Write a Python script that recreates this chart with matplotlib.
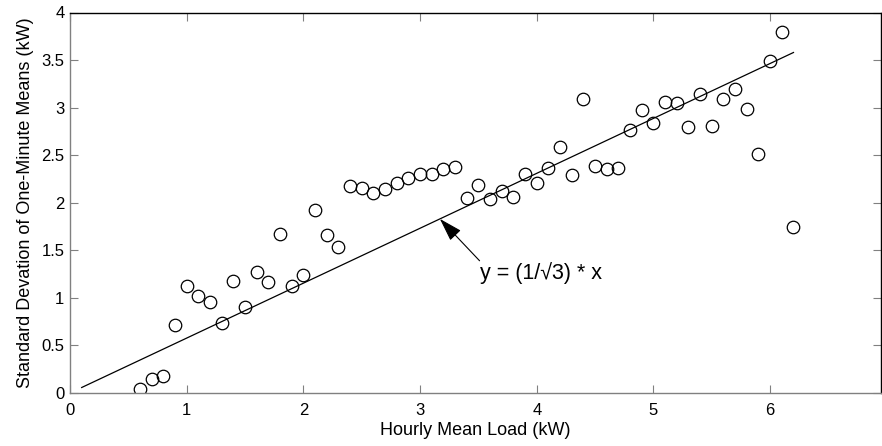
import numpy as np
import matplotlib
matplotlib.use("Agg")
import matplotlib.pyplot as plt

plt.rcParams['font.family'] = ['Liberation Sans', 'DejaVu Sans']

load_kw = [0.6, 0.7, 0.8, 0.9, 1.0, 1.1, 1.2, 1.3, 1.4, 1.5, 1.6, 1.7, 1.8, 1.9,
           2.0, 2.1, 2.2, 2.3, 2.4, 2.5, 2.6, 2.7, 2.8, 2.9, 3.0, 3.1, 3.2, 3.3,
           3.4, 3.5, 3.6, 3.7, 3.8, 3.9, 4.0, 4.1, 4.2, 4.3, 4.4, 4.5, 4.6, 4.7,
           4.8, 4.9, 5.0, 5.1, 5.2, 5.3, 5.4, 5.5, 5.6, 5.7, 5.8, 5.9, 6.0, 6.1, 6.2]
std_kw = [0.04, 0.15, 0.18, 0.71, 1.12, 1.02, 0.96, 0.74, 1.18, 0.90, 1.27, 1.17, 1.67, 1.13,
          1.24, 1.92, 1.66, 1.53, 2.18, 2.16, 2.10, 2.14, 2.21, 2.26, 2.30, 2.30, 2.36, 2.38,
          2.05, 2.19, 2.04, 2.12, 2.06, 2.30, 2.21, 2.37, 2.59, 2.29, 3.09, 2.39, 2.35, 2.37,
          2.77, 2.98, 2.84, 3.06, 3.05, 2.80, 3.14, 2.81, 3.09, 3.20, 2.99, 2.51, 3.49, 3.80, 1.74]
line_x = [0.1, 6.2]
xtick_vals = [0, 1, 2, 3, 4, 5, 6]
ytick_vals = [0, 0.5, 1, 1.5, 2, 2.5, 3, 3.5, 4]
ytick_labels = ['0', '0.5', '1', '1.5', '2', '2.5', '3', '3.5', '4']

fig = plt.figure(figsize=(8.82, 4.46), dpi=100)
ax = fig.add_axes([70/882, 53/446, 811/882, 380.5/446])

ax.plot(load_kw, std_kw, linestyle='none', marker='o', markersize=9,
        markerfacecolor='none', markeredgecolor='black', markeredgewidth=0.9)
lx = np.array(line_x)
ax.plot(lx, lx / np.sqrt(3), color='black', linewidth=0.9)

# arrow and label
tip_x = 3.17
ax.annotate('', xy=(tip_x, tip_x / np.sqrt(3)), xytext=(3.51, 1.39),
            arrowprops=dict(arrowstyle='-|>,head_length=1.45,head_width=0.45',
                            mutation_scale=10, color='black', lw=0.8,
                            shrinkA=0, shrinkB=0))
ax.text(3.51, 1.26, 'y = (1/\u221a3) * x', fontsize=15.5, va='center', ha='left')

ax.set_xlim(0, 6.95)
ax.set_ylim(0, 4)
ax.set_xticks(xtick_vals)
ax.set_yticks(ytick_vals)
ax.set_yticklabels(ytick_labels)
ax.tick_params(direction='in', length=6, width=0.8, labelsize=12, colors='#808080',
               labelcolor='black', top=True, right=True)
ax.tick_params(axis='x', pad=7)
ax.tick_params(axis='y', pad=4)
for s in ['left', 'bottom']:
    ax.spines[s].set_color('#808080')
for s in ['top', 'right']:
    ax.spines[s].set_color('black')
for s in ax.spines.values():
    s.set_linewidth(1.0)

ax.set_xlabel('Hourly Mean Load (kW)', fontsize=13, labelpad=3)
ax.set_ylabel('Standard Devation of One-Minute Means (kW)', fontsize=13, labelpad=5)

fig.savefig('out.png', dpi=100)
